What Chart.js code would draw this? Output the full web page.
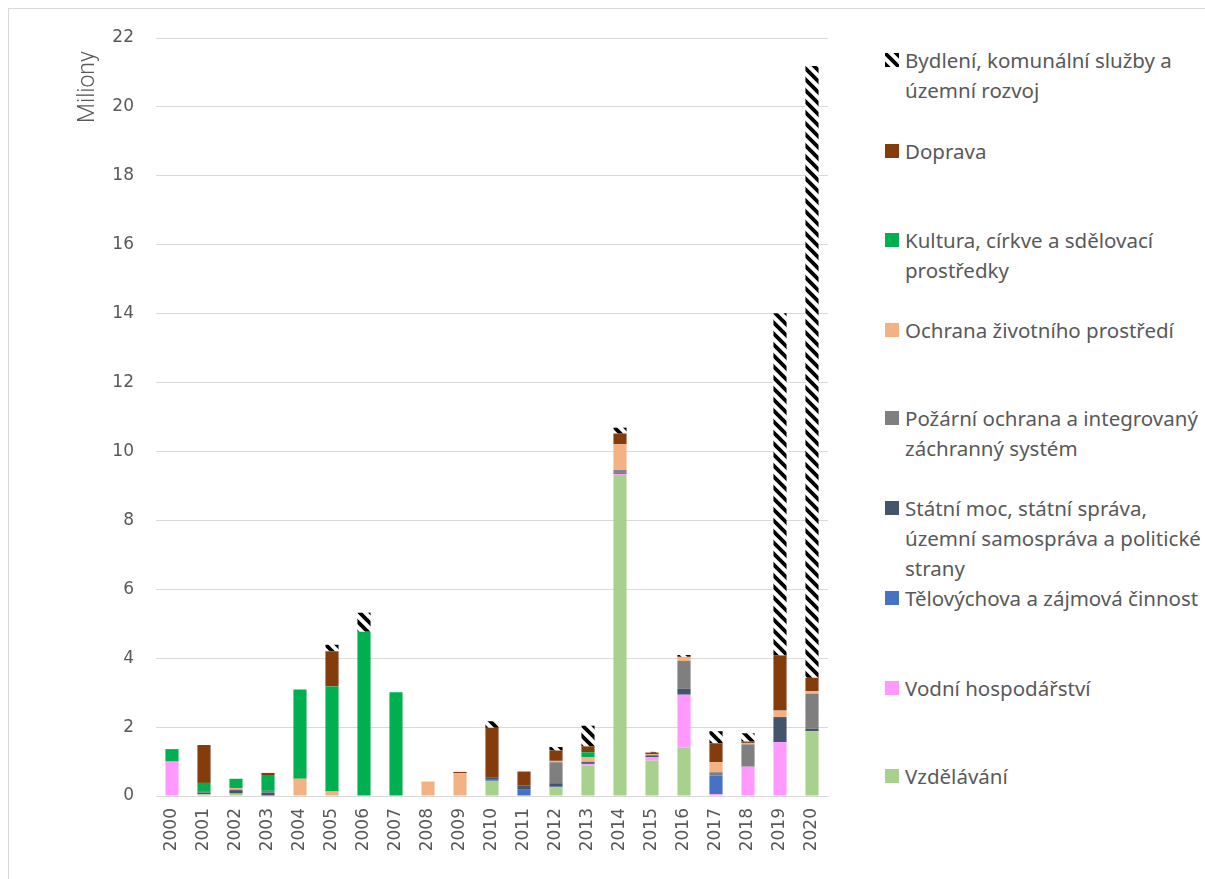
<!DOCTYPE html>
<html>
<head>
<meta charset="utf-8">
<script src="https://cdn.jsdelivr.net/npm/chart.js@4"></script>
<style>
  html, body { margin: 0; padding: 0; background: #fff; }
  #frame { position: absolute; left: 8px; top: 8px; width: 1300px; height: 1000px; border: 1px solid #d9d9d9; box-sizing: border-box; }
  #wrap { position: absolute; left: 0; top: 0; width: 860px; height: 879px; }
  #legend { position: absolute; left: 0; top: 0; }
  .item { position: absolute; left: 905px; font-family: "Noto Sans", sans-serif; font-size: 20.5px; line-height: 30px; color: #595959; white-space: nowrap; }
  .sw { position: absolute; left: -20px; top: 8px; width: 14px; height: 14px; }
</style>
</head>
<body>
<div id="frame"></div>
<div id="wrap"><canvas id="c" width="860" height="879"></canvas></div>
<div id="legend"></div>
<script>
// Years on the category axis
const years = ['2000','2001','2002','2003','2004','2005','2006','2007','2008','2009','2010',
               '2011','2012','2013','2014','2015','2016','2017','2018','2019','2020'];

// Values in millions, per spending area (stack order bottom -> top)
const vzdelavani = [0, 0.05, 0.07, 0, 0, 0, 0, 0, 0, 0, 0.44, 0, 0.25, 0.88, 9.32, 1.03, 1.41, 0, 0, 0, 1.88];
const vodniHosp  = [1.0, 0, 0, 0, 0, 0, 0, 0, 0, 0, 0, 0, 0, 0.04, 0.03, 0.10, 1.53, 0.05, 0.85, 1.56, 0];
const telovychova = [0, 0, 0, 0, 0, 0, 0, 0, 0, 0, 0.03, 0.20, 0.02, 0.04, 0, 0, 0, 0.54, 0, 0, 0];
const statniMoc  = [0, 0.05, 0.10, 0.10, 0, 0, 0, 0, 0, 0, 0.06, 0.10, 0.10, 0.03, 0.04, 0.03, 0.17, 0, 0, 0.73, 0.07];
const pozarni    = [0, 0.02, 0.02, 0.05, 0, 0, 0, 0, 0, 0, 0, 0, 0.61, 0, 0.07, 0.03, 0.81, 0.10, 0.65, 0, 1.02];
const ochrana    = [0, 0, 0.04, 0, 0.50, 0.13, 0, 0, 0.42, 0.66, 0, 0, 0.04, 0.13, 0.75, 0.02, 0.12, 0.29, 0.04, 0.19, 0.07];
const kultura    = [0.34, 0.26, 0.27, 0.46, 2.59, 3.05, 4.77, 3.01, 0, 0, 0, 0, 0, 0.15, 0, 0, 0, 0, 0, 0, 0];
const doprava    = [0.02, 1.10, 0, 0.06, 0, 1.02, 0, 0, 0, 0.04, 1.45, 0.41, 0.30, 0.17, 0.31, 0.05, 0, 0.55, 0.04, 1.60, 0.39];
const bydleni    = [0, 0, 0, 0, 0, 0.19, 0.55, 0, 0, 0, 0.19, 0, 0.10, 0.60, 0.17, 0.02, 0.05, 0.35, 0.24, 9.93, 17.76];

// Series names, split into the lines shown in the legend
const names = [
  ['Vzdělávání'],
  ['Vodní hospodářství'],
  ['Tělovýchova a zájmová činnost'],
  ['Státní moc, státní správa,', 'územní samospráva a politické', 'strany'],
  ['Požární ochrana a integrovaný', 'záchranný systém'],
  ['Ochrana životního prostředí'],
  ['Kultura, církve a sdělovací', 'prostředky'],
  ['Doprava'],
  ['Bydlení, komunální služby a', 'územní rozvoj']
];
const values = [vzdelavani, vodniHosp, telovychova, statniMoc, pozarni, ochrana, kultura, doprava, bydleni];

// Striped fill for the housing series
function makeStripes(size) {
  const c = document.createElement('canvas');
  c.width = size; c.height = size;
  const g = c.getContext('2d');
  g.fillStyle = '#fff';
  g.fillRect(0, 0, size, size);
  g.strokeStyle = '#000';
  g.lineWidth = 3.8;
  g.beginPath();
  for (let k = -1; k <= 1; k++) {
    g.moveTo(k * size - 2, -2);
    g.lineTo(k * size + size + 2, size + 2);
  }
  g.stroke();
  return c;
}
const stripeTile = makeStripes(11);
const stripePattern = document.getElementById('c').getContext('2d').createPattern(stripeTile, 'repeat');

const colors = ['#A9D18E', '#FF99FF', '#4472C4', '#44546A', '#7F7F7F', '#F4B183', '#00B050', '#843C0C', stripePattern];

const datasets = values.map((v, i) => ({
  label: names[i].join(' '),
  data: v,
  backgroundColor: colors[i],
  borderWidth: 0,
  barPercentage: 0.41,
  categoryPercentage: 1.0
}));

// Rotated axis title placed near the top of the value axis
const axisTitle = {
  id: 'axisTitle',
  afterDraw(chart) {
    const ctx = chart.ctx;
    ctx.save();
    ctx.translate(88, 87);
    ctx.rotate(-Math.PI / 2);
    ctx.font = '300 23px Roboto';
    ctx.fillStyle = '#595959';
    ctx.textAlign = 'center';
    ctx.textBaseline = 'middle';
    ctx.fillText('Miliony', 0, 0);
    ctx.restore();
  }
};

const chart = new Chart(document.getElementById('c'), {
  type: 'bar',
  data: { labels: years, datasets },
  plugins: [axisTitle],
  options: {
    responsive: false,
    animation: false,
    layout: { padding: { top: 38, right: 32, left: 0, bottom: 0 } },
    plugins: { legend: { display: false }, tooltip: { enabled: false } },
    scales: {
      x: {
        stacked: true,
        grid: { display: false },
        border: { display: true, color: '#d9d9d9' },
        ticks: {
          minRotation: 90, maxRotation: 90, padding: 4,
          color: '#595959', font: { family: 'DejaVu Sans', size: 17 }
        },
        afterFit(s) { s.height = 83; }
      },
      y: {
        stacked: true,
        min: 0, max: 22,
        grid: { color: '#d9d9d9', lineWidth: 1, drawTicks: false },
        border: { display: false },
        ticks: {
          stepSize: 2, padding: 22,
          color: '#595959', font: { family: 'DejaVu Sans', size: 17 }
        },
        afterFit(s) { s.width = 156; }
      }
    }
  }
});

// Legend on the right, top entry first
const legendTops = [761, 673, 583, 493, 403, 315, 225, 136, 45];
const legend = document.getElementById('legend');
names.forEach((lines, i) => {
  const item = document.createElement('div');
  item.className = 'item';
  item.style.top = legendTops[i] + 'px';
  let sw;
  if (i === 8) {
    sw = document.createElement('canvas');
    sw.width = 14; sw.height = 14;
    const g = sw.getContext('2d');
    g.fillStyle = g.createPattern(stripeTile, 'repeat');
    g.fillRect(0, 0, 14, 14);
  } else {
    sw = document.createElement('div');
    sw.style.background = colors[i];
  }
  sw.className = 'sw';
  item.appendChild(sw);
  lines.forEach((t, j) => {
    if (j) item.appendChild(document.createElement('br'));
    item.appendChild(document.createTextNode(t));
  });
  legend.appendChild(item);
});
</script>
</body>
</html>
